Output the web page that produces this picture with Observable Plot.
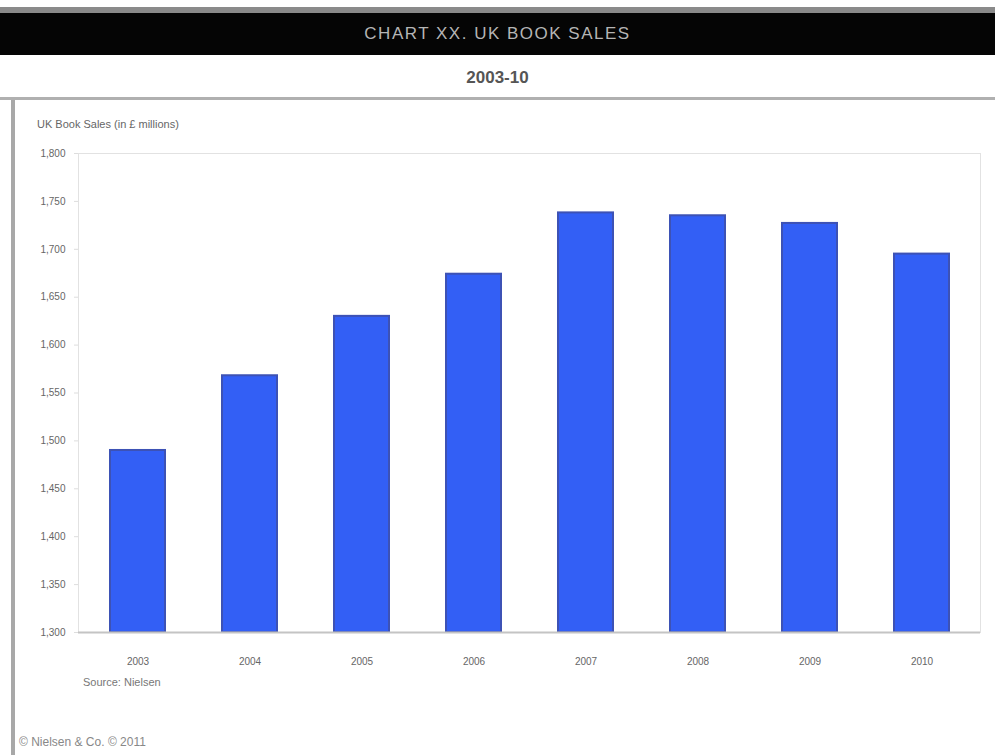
<!DOCTYPE html>
<html>
<head>
<meta charset="utf-8">
<script src="https://cdn.jsdelivr.net/npm/d3@7"></script>
<script src="https://cdn.jsdelivr.net/npm/@observablehq/plot@0.6"></script>
<style>
  html, body { margin: 0; padding: 0; background: #fff; }
  body { font-family: "Liberation Sans", Arial, sans-serif; }
  #wrap { position: relative; width: 995px; height: 755px; overflow: hidden; background: #fff; }
  #title { position: absolute; left: 0; top: 7px; width: 995px; height: 42px; border-top: 6px solid #8a8a8a;
           background: #050505; color: #b5b5b5; font-size: 17px; letter-spacing: 1.5px; text-align: center; line-height: 42px; }
  #subtitle { position: absolute; left: 0; top: 55px; width: 995px; height: 42px; border-bottom: 3px solid #b0b0b0;
              color: #555; font-size: 17px; font-weight: bold; text-align: center; line-height: 46px; }
  #lborder { position: absolute; left: 11px; top: 100px; width: 4px; height: 655px; background: #a8a8a8; }
  #ylabel { position: absolute; left: 37px; top: 118px; font-size: 11px; color: #666; }
  #source { position: absolute; left: 83px; top: 676px; font-size: 11px; color: #777; }
  #footer { position: absolute; left: 19px; top: 735px; font-size: 12px; color: #888; }
  #chart { position: absolute; left: 0; top: 140px; }
</style>
</head>
<body>
<div id="wrap">
  <div id="title">CHART XX. UK BOOK SALES</div>
  <div id="subtitle">2003-10</div>
  <div id="lborder"></div>
  <div id="ylabel">UK Book Sales (in £ millions)</div>
  <div id="chart"></div>
  <div id="source">Source: Nielsen</div>
  <div id="footer">© Nielsen &amp; Co. © 2011</div>
</div>
<script>
const years = ["2003", "2004", "2005", "2006", "2007", "2008", "2009", "2010"];
const sales = [1490, 1568, 1630, 1674, 1738, 1735, 1727, 1695];
const yTicks = [1300, 1350, 1400, 1450, 1500, 1550, 1600, 1650, 1700, 1750, 1800];

const data = years.map((y, i) => ({year: y, value: sales[i]}));

const chart = Plot.plot({
  width: 995,
  height: 560,
  marginTop: 13,
  marginBottom: 68,
  marginLeft: 78,
  marginRight: 15,
  style: {fontFamily: "'Liberation Sans', Arial, sans-serif", fontSize: "10px", color: "#555", background: "transparent"},
  x: {domain: years, paddingInner: 0.51, paddingOuter: 0.255, label: null, tickSize: 0, tickPadding: 25},
  y: {domain: [1300, 1800], ticks: yTicks, tickFormat: d3.format(","), label: null, tickSize: 4, tickPadding: 9},
  marks: [
    Plot.frame({stroke: "#e2e2e2"}),
    Plot.barY(data, {x: "year", y1: 1300, y2: "value", fill: "#335ff5", stroke: "#3d52b5", strokeWidth: 2}),
    Plot.ruleY([1300], {stroke: "#c4c4c4", strokeWidth: 2}),
    Plot.axisY({ticks: yTicks, tickFormat: d3.format(","), tickSize: 4, tickPadding: 9, stroke: "#ddd", fill: "#666"}),
    Plot.axisX({tickSize: 0, tickPadding: 25, fill: "#666"})
  ]
});
document.getElementById("chart").appendChild(chart);
</script>
</body>
</html>
